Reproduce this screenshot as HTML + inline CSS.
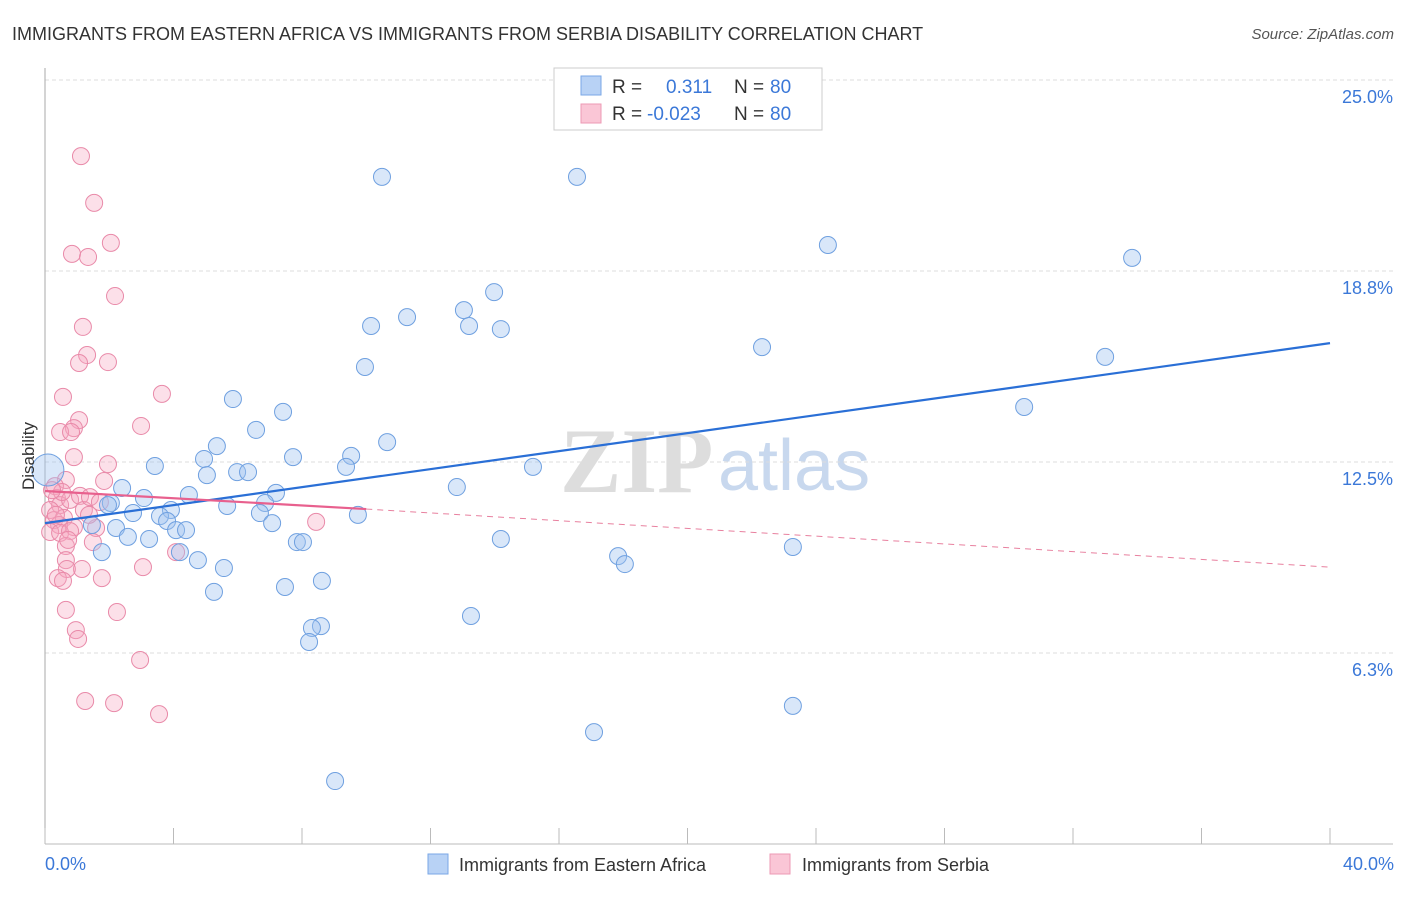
<!DOCTYPE html>
<html><head><meta charset="utf-8"><style>
body{margin:0;background:#fff;font-family:"Liberation Sans",sans-serif;}
</style></head><body>
<svg id="chart" width="1406" height="892" xmlns="http://www.w3.org/2000/svg" font-family="Liberation Sans, sans-serif">
<text x="12" y="40" font-size="18" fill="#333">IMMIGRANTS FROM EASTERN AFRICA VS IMMIGRANTS FROM SERBIA DISABILITY CORRELATION CHART</text>
<text x="1394" y="39" font-size="15" fill="#555" font-style="italic" text-anchor="end">Source: ZipAtlas.com</text>
<text x="560" y="492" font-size="92" fill="#ddd" font-family="Liberation Serif, serif" font-weight="bold">ZIP</text>
<text x="718" y="490" font-size="72" fill="#c8d8ee">atlas</text>
<g id="grid"></g>
<g id="axes"></g>
<g id="pts"></g>
<g id="trends"></g>
<text transform="translate(34,456) rotate(-90)" font-size="17" fill="#333" text-anchor="middle">Disability</text>
<text x="45" y="870" font-size="18" fill="#3b78d8">0.0%</text>
<text x="1394" y="870" font-size="18" fill="#3b78d8" text-anchor="end">40.0%</text>
<g>
<rect x="554" y="68" width="268" height="62" fill="#fff" stroke="#ccc"/>
<rect x="581" y="76" width="20" height="19" fill="#b8d2f5" stroke="#7aa7e6"/>
<rect x="581" y="104" width="20" height="19" fill="#fac6d6" stroke="#ec9ab4"/>
<text x="612" y="93" font-size="19" fill="#333">R =</text>
<text x="666" y="93" font-size="19" fill="#3b78d8">0.311</text>
<text x="734" y="93" font-size="19" fill="#333">N =</text>
<text x="770" y="93" font-size="19" fill="#3b78d8">80</text>
<text x="612" y="120" font-size="19" fill="#333">R =</text>
<text x="647" y="120" font-size="19" fill="#3b78d8">-0.023</text>
<text x="734" y="120" font-size="19" fill="#333">N =</text>
<text x="770" y="120" font-size="19" fill="#3b78d8">80</text>
</g>
<g>
<rect x="428" y="854" width="20" height="20" fill="#b8d2f5" stroke="#7aa7e6"/>
<text x="459" y="871" font-size="18" fill="#333">Immigrants from Eastern Africa</text>
<rect x="770" y="854" width="20" height="20" fill="#fac6d6" stroke="#ec9ab4"/>
<text x="802" y="871" font-size="18" fill="#333">Immigrants from Serbia</text>
</g>
</svg>
<script>
const yTicks=[25.0,18.75,12.5,6.25];
const yTickLabels=["25.0%","18.8%","12.5%","6.3%"];
const xTicks=[0,4,8,12,16,20,24,28,32,36,40];
const blueX=[10.49,16.56,24.37,33.84,13.98,13.04,11.27,10.15,13.20,14.19,22.32,33.00,9.96,30.48,5.85,7.41,6.57,10.65,5.35,9.53,7.72,3.42,4.95,9.37,15.19,5.98,6.32,5.04,12.82,2.40,7.19,4.48,3.08,2.05,1.96,5.67,6.85,3.92,6.69,2.74,9.74,3.58,7.07,3.80,1.46,2.21,4.08,4.39,2.58,3.24,7.84,8.03,14.19,1.77,4.20,4.76,17.84,18.05,23.28,5.57,8.62,7.47,5.26,13.26,8.59,8.31,8.22,23.28,17.09,9.03,0.09];
const blueY=[21.83,21.83,19.60,19.18,18.06,17.47,17.24,16.95,16.95,16.85,16.26,15.94,15.61,14.30,14.56,14.14,13.55,13.15,13.02,12.70,12.66,12.37,12.60,12.34,12.34,12.17,12.17,12.07,11.68,11.65,11.49,11.42,11.32,11.16,11.09,11.06,11.16,10.93,10.83,10.83,10.77,10.73,10.50,10.57,10.44,10.34,10.27,10.27,10.05,9.98,9.88,9.88,9.98,9.55,9.55,9.29,9.42,9.16,9.72,9.03,8.61,8.41,8.25,7.46,7.13,7.07,6.61,4.52,3.66,2.06,12.24];
const pinkX=[1.12,1.53,2.05,0.84,1.34,2.18,1.18,1.31,1.06,1.96,0.56,3.64,1.06,0.90,2.99,0.47,0.81,0.90,1.96,1.84,0.65,0.31,0.37,0.47,0.78,1.09,1.21,0.16,0.28,0.59,0.44,0.90,0.16,0.47,0.78,1.59,1.49,0.65,0.65,1.15,0.68,3.05,4.08,0.40,0.56,1.77,0.65,2.24,0.96,1.03,2.96,1.25,2.15,3.55,8.44,1.37,0.53,0.34,0.22,1.40,0.72,1.71];
const pinkY=[22.51,20.98,19.67,19.31,19.21,17.93,16.92,16.00,15.74,15.77,14.63,14.73,13.87,13.61,13.68,13.48,13.48,12.66,12.43,11.88,11.91,11.71,11.32,11.09,11.26,11.39,10.93,10.93,10.60,10.67,10.44,10.37,10.21,10.18,10.24,10.34,9.88,9.75,9.29,9.00,9.00,9.06,9.55,8.70,8.61,8.70,7.66,7.59,7.00,6.71,6.02,4.68,4.61,4.25,10.54,10.77,11.52,10.77,11.58,11.35,9.95,11.19];
const blueTrend=[10.50,16.39];
const pinkTrend=[11.55,10.96,9.06];
const X=v=>45+v*32.125, Y=v=>844-v*30.56;
const NS="http://www.w3.org/2000/svg";
function mk(parent,tag,attrs){const e=document.createElementNS(NS,tag);for(const k in attrs)e.setAttribute(k,attrs[k]);parent.appendChild(e);return e;}
const grid=document.getElementById('grid'),axes=document.getElementById('axes'),pts=document.getElementById('pts'),tr=document.getElementById('trends');
yTicks.forEach((t,i)=>{
 const l=mk(grid,'line',{x1:45,x2:1393,y1:Y(t),y2:Y(t),stroke:'#ddd','stroke-dasharray':'4,3'});
 
 
 const tx=mk(grid,'text',{x:1393,y:Y(t)+23,'font-size':18,fill:'#3b78d8','text-anchor':'end'});
 tx.textContent=yTickLabels[i];
 
 
});
const ax=mk(axes,'line',{x1:45,x2:1393,y1:844,y2:844,stroke:'#bbb'});


const ay=mk(axes,'line',{x1:45,x2:45,y1:68,y2:844,stroke:'#aaa'});


xTicks.forEach(t=>{
 const l=mk(axes,'line',{x1:X(t),x2:X(t),y1:828,y2:844,stroke:'#bbb'});
 
 
});
pinkX.forEach((x,i)=>{
 const c=mk(pts,'circle',{cx:X(x),cy:Y(pinkY[i]),r:8.5,fill:'rgba(245,165,192,0.35)',stroke:'#e98aa9','stroke-width':1});
 
 
});
blueX.forEach((x,i)=>{
 const c=mk(pts,'circle',{cx:X(x),cy:Y(blueY[i]),r:i===blueX.length-1?16:8.5,fill:'rgba(160,196,240,0.4)',stroke:'#6fa0e0','stroke-width':1});
 
 
});
const bl=mk(tr,'line',{x1:X(0),y1:Y(blueTrend[0]),x2:X(40),y2:Y(blueTrend[1]),stroke:'#2a6fd6','stroke-width':2.2});


const pl=mk(tr,'line',{x1:X(0),y1:Y(pinkTrend[0]),x2:X(10),y2:Y(pinkTrend[1]),stroke:'#e8608e','stroke-width':2.2});


const pd=mk(tr,'line',{x1:X(10),y1:Y(pinkTrend[1]),x2:X(40),y2:Y(pinkTrend[2]),stroke:'#e8809f','stroke-width':1,'stroke-dasharray':'6,5'});


</script>
</body></html>
